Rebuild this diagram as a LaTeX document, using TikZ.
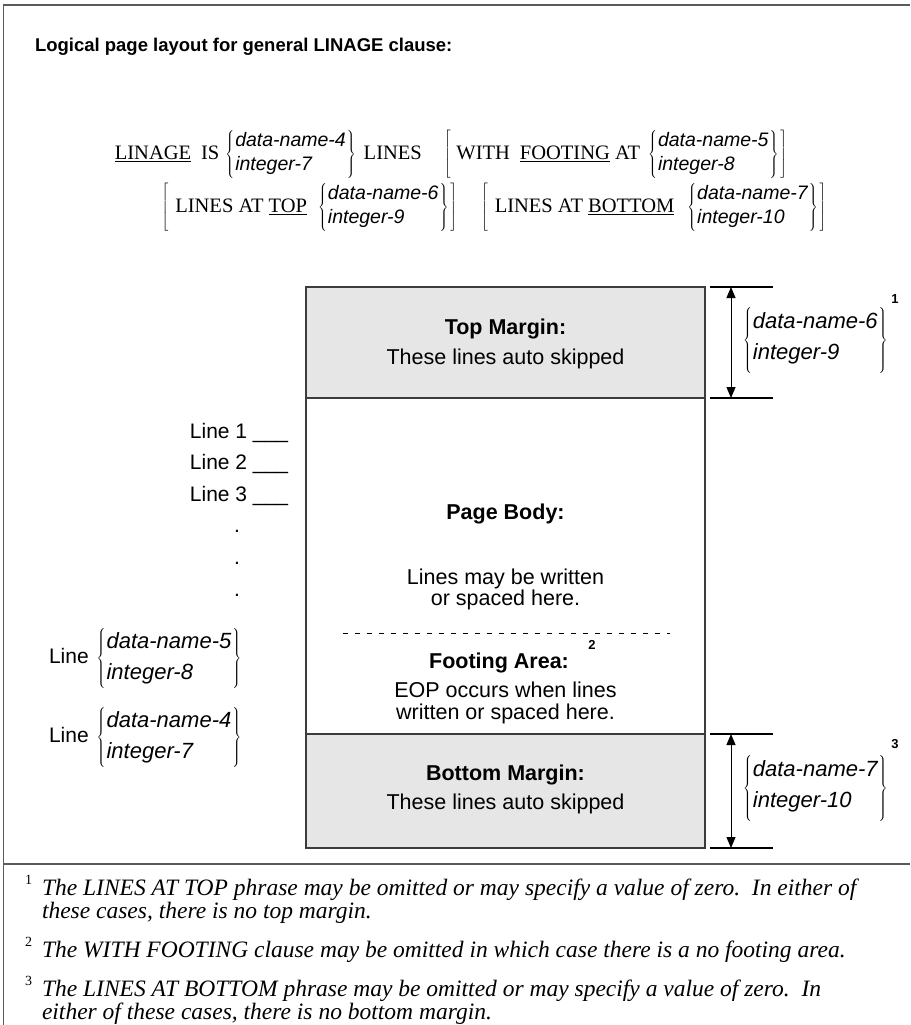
\documentclass[tikz,border=0pt]{standalone}
\usepackage{fontspec}
\setmainfont{Liberation Serif}
\setsansfont{Liberation Sans}
\usetikzlibrary{arrows.meta}
\definecolor{framegray}{HTML}{5A5A5A}
\definecolor{boxline}{HTML}{3C3C3C}
\definecolor{boxfill}{HTML}{E6E6E6}
\newcommand{\synchoice}[2]{$\left\{\hbox{\fontsize{19.5}{24}\selectfont\sffamily\itshape\begin{tabular}{@{\hspace{1pt}}l@{\hspace{1pt}}}#1\\#2\end{tabular}}\right\}$}
\newcommand{\bigchoice}[2]{$\left\{\hbox{\fontsize{22}{31}\selectfont\sffamily\itshape\begin{tabular}{@{\hspace{1pt}}l@{\hspace{1pt}}}#1\\#2\end{tabular}}\right\}$}
\begin{document}
\begin{tikzpicture}[x=1pt,y=-1pt,
  every node/.style={inner sep=0pt,outer sep=0pt},
  region/.style={draw=boxline,line width=1.2pt,minimum width=399pt,anchor=north west},
  head/.style={font=\fontsize{21.5}{22}\selectfont\sffamily\bfseries,anchor=base},
  body/.style={font=\fontsize{21.5}{22}\selectfont\sffamily,anchor=base},
  lbl/.style={font=\fontsize{21}{22}\selectfont\sffamily},
  supnum/.style={font=\fontsize{13}{13}\selectfont\sffamily\bfseries},
  syn/.style={font=\fontsize{20.5}{24}\selectfont},
  fn/.style={font=\fontsize{23.5}{24}\selectfont\itshape,anchor=base west},
  fnnum/.style={font=\fontsize{14}{14}\selectfont,anchor=base west},
  ext/.style={draw=black,line width=1.3pt},
  dim/.style={draw=black,line width=1pt,{Triangle[length=11pt,width=9pt]}-{Triangle[length=11pt,width=9pt]}},
  frame/.style={draw=framegray,line width=1.5pt}]
\useasboundingbox (0,0) rectangle (910,1025);
% frame
\coordinate (fbl) at (3.5,1025);
\coordinate (ftl) at (3.5,5);
\coordinate (ftr) at (910,5);
\coordinate (fsl) at (3.5,864);
\coordinate (fsr) at (910,864);
\draw[frame] (fbl) -- (ftl) -- (ftr);
\draw[frame] (fsl) -- (fsr);
% title
\node[font=\fontsize{18.5}{20}\selectfont\sffamily\bfseries,anchor=base west] (title) at (35,52) {Logical page layout for general LINAGE clause:};
% syntax
\node[syn] (row1) at (451,154) {\underline{LINAGE}\hspace{10pt}IS\hspace{6pt}\synchoice{data-name-4}{integer-7}\hspace{8pt}LINES\hspace{22pt}$\left[\hbox{\hspace{6pt}WITH\hspace{10pt}\underline{FOOTING} AT\hspace{8pt}\synchoice{data-name-5}{integer-8}\hspace{2pt}}\right]$};
\node[syn] (row2) at (494,207) {$\left[\hbox{\hspace{7pt}LINES AT \underline{TOP}\hspace{11pt}\synchoice{data-name-6}{integer-9}\hspace{2pt}}\right]$\hspace{24pt}$\left[\hbox{\hspace{7pt}LINES AT \underline{BOTTOM}\hspace{13pt}\synchoice{data-name-7}{integer-10}\hspace{2pt}}\right]$};
% page regions
\node[region,fill=boxfill,minimum height=111pt] (topm) at (306,287) {};
\node[region,minimum height=336pt] (pbody) at (306,398) {};
\node[region,fill=boxfill,minimum height=114pt] (botm) at (306,734) {};
% texts in page
\node[head] (tmh) at (505.5,334) {Top Margin:};
\node[body] (tmt) at (505.5,364) {These lines auto skipped};
\node[head] (pbh) at (505.5,519) {Page Body:};
\node[body] (pb1) at (505.5,584) {Lines may be written};
\node[body] (pb2) at (505.5,605) {or spaced here.};
\coordinate (dl) at (343,633);
\coordinate (dr) at (670,633);
\draw[black,line width=1pt,dash pattern=on 5pt off 7pt] (dl) -- (dr);
\node[head] (fah) at (499,668) {Footing Area:};
\node[supnum] (s2) at (592,645) {2};
\node[body] (eop1) at (505.5,697) {EOP occurs when lines};
\node[body] (eop2) at (505.5,719) {written or spaced here.};
\node[head] (bmh) at (505.5,780) {Bottom Margin:};
\node[body] (bmt) at (505.5,809) {These lines auto skipped};
% right dimensions
\coordinate (e1a) at (710,287); \coordinate (e1b) at (773,287);
\coordinate (e2a) at (710,398); \coordinate (e2b) at (773,398);
\coordinate (e3a) at (710,734); \coordinate (e3b) at (773,734);
\coordinate (e4a) at (710,848); \coordinate (e4b) at (773,848);
\coordinate (a1t) at (731,287); \coordinate (a1b) at (731,398);
\coordinate (a2t) at (731,734); \coordinate (a2b) at (731,848);
\draw[ext] (e1a) -- (e1b);
\draw[ext] (e2a) -- (e2b);
\draw[ext] (e3a) -- (e3b);
\draw[ext] (e4a) -- (e4b);
\draw[dim] (a1t) -- (a1b);
\draw[dim] (a2t) -- (a2b);
\node[anchor=west] (rg1) at (743,340) {\bigchoice{data-name-6}{integer-9}};
\node[supnum] (s1) at (895,299) {1};
\node[anchor=west] (rg2) at (743,788) {\bigchoice{data-name-7}{integer-10}};
\node[supnum] (s3) at (895,744) {3};
% left labels
\node[lbl,anchor=base east] (l1) at (288,438) {Line 1 \_\_\_};
\node[lbl,anchor=base east] (l2) at (288,469) {Line 2 \_\_\_};
\node[lbl,anchor=base east] (l3) at (288,501) {Line 3 \_\_\_};
\node[lbl,anchor=base] (d1) at (237,532) {.};
\node[lbl,anchor=base] (d2) at (237,564) {.};
\node[lbl,anchor=base] (d3) at (237,596) {.};
\node[lbl,anchor=west] (lg5) at (49,658) {Line\hspace{8pt}\bigchoice{data-name-5}{integer-8}};
\node[lbl,anchor=west] (lg4) at (49,737) {Line\hspace{8pt}\bigchoice{data-name-4}{integer-7}};
% footnotes
\node[fnnum] (n1) at (25,884) {1};
\node[fn] (f1a) at (42,895) {The LINES AT TOP phrase may be omitted or may specify a value of zero.\ \ In either of};
\node[fn] (f1b) at (42,918) {these cases, there is no top margin.};
\node[fnnum] (n2) at (25,946) {2};
\node[fn] (f2) at (42,957) {The WITH FOOTING clause may be omitted in which case there is a no footing area.};
\node[fnnum] (n3) at (25,985) {3};
\node[fn] (f3a) at (42,996) {The LINES AT BOTTOM phrase may be omitted or may specify a value of zero.\ \ In};
\node[fn] (f3b) at (42,1019) {either of these cases, there is no bottom margin.};
\end{tikzpicture}
\end{document}
